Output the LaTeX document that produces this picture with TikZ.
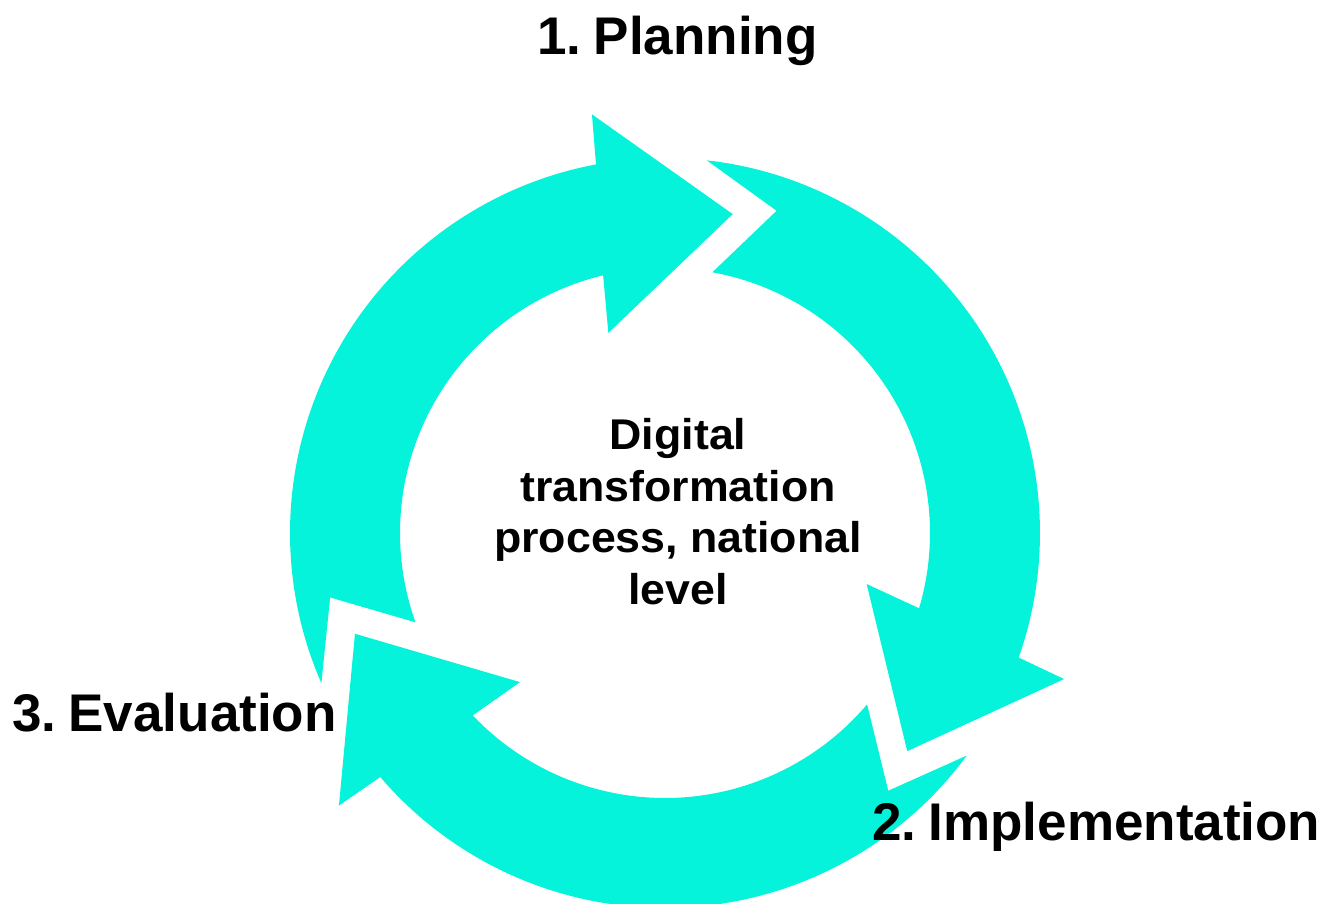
\documentclass[tikz,border=0pt]{standalone}
\usepackage{fontspec}
\setmainfont{Liberation Sans}
\newfontfamily\labelfont[WordSpace=0.5]{Liberation Sans}
\newfontfamily\corefont[FakeStretch=1.04]{Liberation Sans}
\definecolor{cycfill}{RGB}{5,243,218}
\begin{document}
\begin{tikzpicture}[x=1pt,y=1pt,
  arrowfill/.style={fill=cycfill},
  steplabel/.style={font=\labelfont\fontsize{53}{60}\selectfont\bfseries, inner sep=0pt, text=black},
  centerlabel/.style={font=\corefont\fontsize{43}{51.5}\selectfont\bfseries, inner sep=0pt, align=center, text=black},
  cycarrow/.pic={
    \fill[arrowfill] (203.6:375pt) arc[start angle=203.6, end angle=100.6, radius=375pt]
      -- (99.9:425pt) -- (78:326pt) -- (105.8:208pt) -- (103.5:265pt)
      arc[start angle=103.5, end angle=199.7, radius=265pt]
      -- (190.9:341pt) -- cycle;
  }]
\useasboundingbox (-665,-370) rectangle (668,533);
\clip (-665,-370) rectangle (668,533);
\pic at (0,0) {cycarrow};
\pic[rotate=-120] at (0,0) {cycarrow};
\pic[rotate=-240] at (0,0) {cycarrow};
\node[steplabel, anchor=base] (plan) at (12.5,478) {1. Planning};
\node[steplabel, anchor=base west] (impl) at (207,-307) {2. Implementation};
\node[steplabel, anchor=base west] (eval) at (-653,-198) {3. Evaluation};
\node[centerlabel, anchor=base] (core) at (13,-71) {Digital\\transformation\\process, national\\level};
\end{tikzpicture}
\end{document}
